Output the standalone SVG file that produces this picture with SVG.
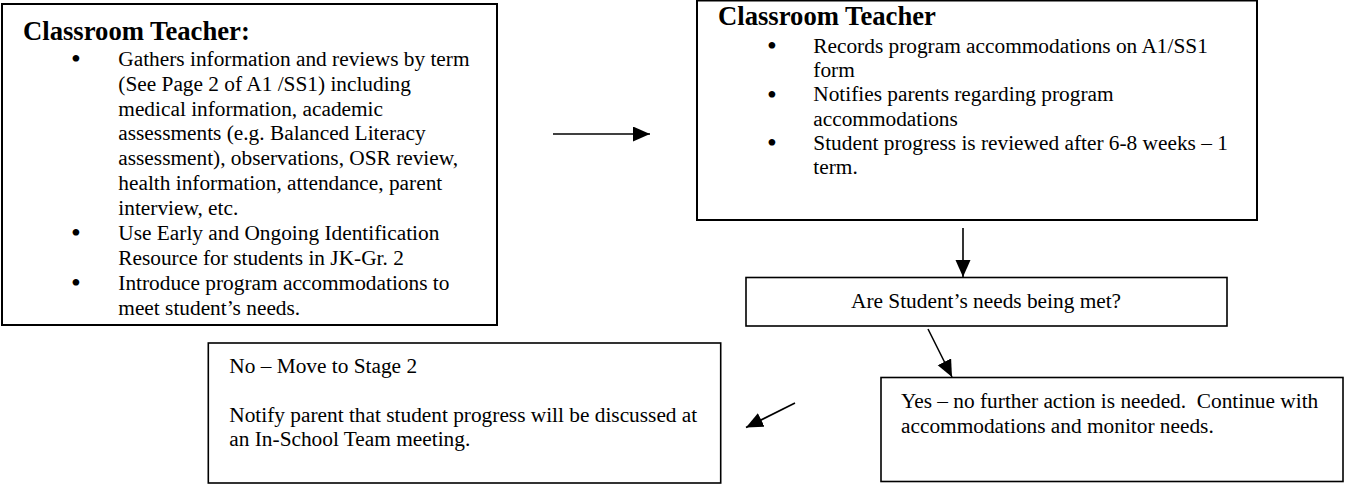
<svg xmlns="http://www.w3.org/2000/svg" width="1345" height="487" viewBox="0 0 1345 487">
<style>
.box{fill:#fff;stroke:#000;stroke-width:2}
.thin{stroke-width:1.6}
.t{font-family:"Liberation Serif","Times New Roman",serif;font-size:21.33px;fill:#000}
.h{font-family:"Liberation Serif","Times New Roman",serif;font-size:26.67px;font-weight:bold;fill:#000}
.b{font-family:"Liberation Serif","Times New Roman",serif;font-size:28px;fill:#000}
.c{stroke:#000;stroke-width:1.6;fill:none}
</style>
<defs>
<marker id="ah" markerUnits="userSpaceOnUse" markerWidth="18" markerHeight="16" refX="17" refY="7.5" orient="auto">
<path d="M0,0 L17,7.5 L0,15 z" fill="#000"/>
</marker>
</defs>
<g id="node-box1">
<rect class="box" x="2" y="4" width="495" height="321"/>
<text class="h" x="23" y="40">Classroom Teacher:</text>
<text class="b" x="71" y="68">•</text>
<text class="t" x="118.3" y="65.7">Gathers information and reviews by term</text>
<text class="t" x="118.3" y="90.6">(See Page 2 of A1 /SS1) including</text>
<text class="t" x="118.3" y="115.5">medical information, academic</text>
<text class="t" x="118.3" y="140.4">assessments (e.g. Balanced Literacy</text>
<text class="t" x="118.3" y="165.3">assessment), observations, OSR review,</text>
<text class="t" x="118.3" y="190.2">health information, attendance, parent</text>
<text class="t" x="118.3" y="215.1">interview, etc.</text>
<text class="b" x="71" y="242">•</text>
<text class="t" x="118.3" y="240">Use Early and Ongoing Identification</text>
<text class="t" x="118.3" y="264.9">Resource for students in JK-Gr. 2</text>
<text class="b" x="71" y="292">•</text>
<text class="t" x="118.3" y="289.8">Introduce program accommodations to</text>
<text class="t" x="118.3" y="314.7">meet student’s needs.</text>
</g>
<g id="node-box2">
<rect class="box" x="697" y="0.5" width="560" height="219.5"/>
<text class="h" x="718" y="25">Classroom Teacher</text>
<text class="b" x="767" y="55">•</text>
<text class="t" x="813.3" y="52.6">Records program accommodations on A1/SS1</text>
<text class="t" x="813.3" y="77">form</text>
<text class="b" x="767" y="104">•</text>
<text class="t" x="813.3" y="101.3">Notifies parents regarding program</text>
<text class="t" x="813.3" y="125.7">accommodations</text>
<text class="b" x="767" y="152">•</text>
<text class="t" x="813.3" y="150">Student progress is reviewed after 6-8 weeks – 1</text>
<text class="t" x="813.3" y="174.4">term.</text>
</g>
<g id="node-decision">
<rect class="box thin" x="746" y="277.5" width="481" height="48.5"/>
<text class="t" x="851" y="308.3">Are Student’s needs being met?</text>
</g>
<g id="node-yes">
<rect class="box thin" x="881" y="377.5" width="462" height="104"/>
<text class="t" x="901" y="407.7" style="white-space:pre">Yes – no further action is needed.  Continue with</text>
<text class="t" x="901" y="432.5">accommodations and monitor needs.</text>
</g>
<g id="node-no">
<rect class="box thin" x="208.3" y="343" width="512.4" height="140"/>
<text class="t" x="229.3" y="372.7">No – Move to Stage 2</text>
<text class="t" x="229.3" y="421.7">Notify parent that student progress will be discussed at</text>
<text class="t" x="229.3" y="446.3">an In-School Team meeting.</text>
</g>
<g id="connectors">
<line class="c" x1="553" y1="134" x2="650" y2="134" marker-end="url(#ah)"/>
<line class="c" x1="963" y1="228" x2="963" y2="277" marker-end="url(#ah)"/>
<line class="c" x1="928" y1="329" x2="952" y2="377" marker-end="url(#ah)"/>
<line class="c" x1="795" y1="403" x2="746" y2="427.5" marker-end="url(#ah)"/>
</g>
</svg>
